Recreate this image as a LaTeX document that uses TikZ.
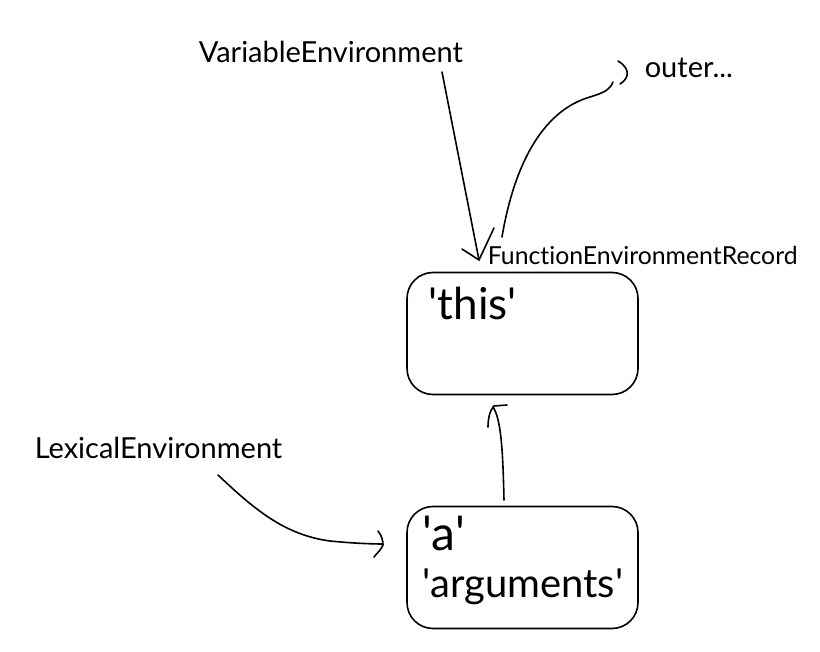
\documentclass[tikz,border=0pt]{standalone}
\usepackage{fontspec}
\newfontfamily\plainfont{Lato}[Ligatures={NoCommon,NoContextual}]
\begin{document}
\begin{tikzpicture}[x=1pt,y=-1pt,line width=1.6pt,line cap=round,line join=round,
  lbl/.style={anchor=base west,inner sep=0pt,font=\plainfont\fontsize{29}{29}\selectfont},
  small/.style={anchor=base west,inner sep=0pt,font=\plainfont\fontsize{24.8}{25}\selectfont},
  big/.style={anchor=base west,inner sep=0pt,font=\plainfont\fontsize{40}{40}\selectfont},
  record/.style={draw,rounded corners=26pt,minimum width=231pt,minimum height=122pt,inner sep=0pt}]
\useasboundingbox (0,0) rectangle (820,652);
% boxes
\node[record] (fer) at (522.5,333.5) {};
\node[record] (decl) at (522.5,567.5) {};
% texts
\node[lbl] (ve) at (198,63) {VariableEnvironment};
\node[lbl] (outer) at (644,78) {outer...};
\node[small] (fert) at (487,265) {FunctionEnvironmentRecord};
\node[lbl] (le) at (34,458) {LexicalEnvironment};
\node[big,font=\plainfont\fontsize{44}{44}\selectfont] (this) at (428,320) {'this'};
\node[big,font=\plainfont\fontsize{48}{48}\selectfont] (a) at (422,550) {'a'};
\node[big] (args) at (422,597) {'arguments'};
% coordinates
\coordinate (veS) at (442,72);
\coordinate (veT) at (479,260);
\coordinate (outS) at (502,237);
\coordinate (outT) at (613,82);
\coordinate (upS) at (504,500);
\coordinate (upT) at (493,407);
\coordinate (leS) at (218,475);
\coordinate (leT) at (383,544);
% VariableEnvironment arrow
\draw (veS) -- (veT);
\draw (462,249) -- (veT) -- (494,228);
% outer arrow
\draw (outS) .. controls (515,160) and (545,110) .. (590,97) .. controls (603,93) and (610,90) .. (outT);
\draw (618,61) .. controls (630,68) and (630,78) .. (620,84);
% up arrow
\draw (upS) .. controls (503,460) and (502,420) .. (upT);
\draw (488,427) .. controls (488,418) and (490,410) .. (494,406) -- (507,405);
% Lexical arrow
\draw (leS) .. controls (255,510) and (285,535) .. (330,541) .. controls (350,543) and (370,544) .. (leT);
\draw (378,531) .. controls (382,536) and (383,541) .. (383,545) .. controls (381,550) and (377,553) .. (374,557);
\end{tikzpicture}
\end{document}
